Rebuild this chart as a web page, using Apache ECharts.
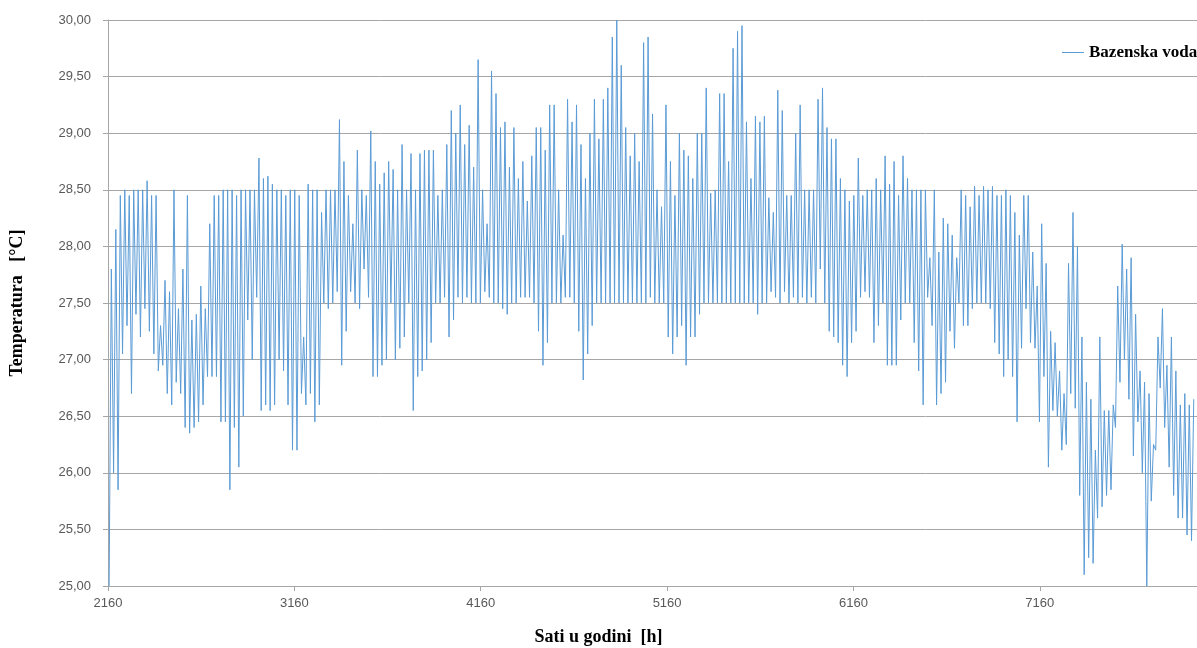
<!DOCTYPE html>
<html>
<head>
<meta charset="utf-8">
<script src="https://cdn.jsdelivr.net/npm/echarts@6/dist/echarts.min.js"></script>
<style>
  html, body { margin: 0; padding: 0; background: #fff; }
  #chart { width: 1197px; height: 648px; }
</style>
</head>
<body>
<div id="chart"></div>
<script>
// hour of year where the plotted period starts
var startHour = 2160
var seriesName = 'Bazenska voda'

// daily minimum of pool water temperature [°C], one value per day
var dailyLow = [
  25.0, 26.0, 25.85, 27.05, 27.3, 26.7, 27.4, 27.2, 27.45, 27.25,
  27.05, 26.9, 26.95, 26.7, 26.6, 26.8, 26.7, 26.4, 26.35, 26.4,
  26.45, 26.6, 26.85, 26.85, 26.85, 26.45, 26.45, 25.85, 26.4, 26.05,
  26.5, 27.35, 27.0, 27.55, 26.55, 26.6, 26.55, 26.6, 27.0, 26.9,
  26.6,
  26.2, 26.2, 26.7, 26.6, 26.7, 26.45, 26.6, 27.5, 27.45, 27.5,
  27.6, 26.95, 27.25, 27.6, 27.5, 27.45, 27.8, 27.55, 26.85, 26.85,
  26.95, 27.0,
  27.5, 27.0, 27.1, 27.2, 27.5, 26.55, 26.85, 26.9, 27.0, 27.15,
  27.5, 27.5, 27.55, 27.2, 27.35, 27.55, 27.5, 27.55, 27.5, 27.5,
  27.5, 27.6, 27.55, 27.5, 27.5, 27.45, 27.4, 27.5, 27.5, 27.55,
  27.55, 27.55, 27.5, 27.25, 26.95, 27.15, 27.5, 27.5, 27.5, 27.55,
  27.55, 27.5,
  27.25, 26.82, 27.05, 27.3, 27.5, 27.5, 27.5, 27.5, 27.5, 27.5,
  27.5, 27.5, 27.5, 27.5, 27.5, 27.5, 27.55, 27.5, 27.5, 27.5,
  27.2,
  27.05, 27.2, 27.3, 26.95, 27.2, 27.2, 27.4, 27.5, 27.5, 27.5,
  27.5, 27.5, 27.5, 27.5, 27.5, 27.5, 27.5, 27.5, 27.5, 27.4,
  27.5,
  27.5, 27.6, 27.55, 27.5, 27.6, 27.5, 27.55, 27.5, 27.55, 27.5,
  27.55, 27.5, 27.8, 27.5, 27.25, 27.2, 27.15, 26.95, 26.85, 27.15,
  27.25, 27.55,
  27.6, 27.55, 27.15, 27.3, 27.5, 26.95, 26.95, 26.95, 27.35, 27.5,
  27.5, 27.15, 26.9, 26.6, 27.55, 27.3, 26.6, 26.7, 26.8, 27.25,
  27.1,
  27.5, 27.3, 27.3, 27.45, 27.5, 27.5, 27.5, 27.45, 27.15, 27.05,
  26.85, 27.0, 26.85, 26.45, 27.1, 27.45, 27.15, 27.1, 26.45, 26.85,
  26.05, 26.55, 26.5, 26.2, 26.25, 26.7, 26.57, 25.8, 25.1, 25.25,
  25.2, 25.6, 25.7, 25.8, 25.85, 26.4, 26.8, 27.0, 26.65, 26.15,
  26.45, 26.0,
  25.0, 25.75, 26.2, 26.75, 26.4, 26.05, 25.8, 25.6, 25.6, 25.45,
  25.4
]

// daily maximum of pool water temperature [°C], one value per day
var dailyHigh = [
  27.8, 28.15, 28.45, 28.5, 28.45, 28.5, 28.5, 28.5, 28.58, 28.45,
  28.45, 27.3, 27.7, 27.6, 28.5, 27.45, 27.8, 28.45, 27.35, 27.4,
  27.65, 27.45, 28.2, 28.45, 28.45, 28.5, 28.5, 28.5, 28.45, 28.5,
  28.5, 28.5, 28.5, 28.78, 28.6, 28.62, 28.55, 28.5, 28.5, 28.45,
  28.5,
  28.5, 28.45, 27.2, 28.55, 28.5, 28.5, 28.3, 28.5, 28.5, 28.5,
  29.12, 28.75, 28.45, 28.2, 28.85, 28.5, 28.45, 29.02, 28.75, 28.55,
  28.65, 28.75,
  28.68, 28.5, 28.9, 28.5, 28.82, 28.5, 28.82, 28.85, 28.85, 28.85,
  28.45, 28.5, 28.9, 29.2, 29.0, 29.25, 28.9, 29.07, 28.7, 29.65,
  28.5, 28.2, 29.55, 29.35, 29.05, 29.1, 28.7, 29.05, 28.6, 28.75,
  28.4, 28.8, 29.05, 29.05, 28.85, 29.25, 29.25, 28.5, 28.1, 29.3,
  29.1, 29.25,
  28.9, 28.6, 29.0, 29.3, 28.95, 29.3, 29.4, 29.85, 30.0, 29.6,
  29.05, 28.8, 29.0, 28.75, 29.8, 29.85, 29.17, 28.5, 28.35, 29.25,
  28.75,
  28.45, 29.0, 28.85, 28.8, 28.6, 29.0, 29.0, 29.4, 28.47, 28.5,
  29.35, 29.35, 28.75, 29.75, 29.9, 29.95, 29.1, 28.6, 29.15, 29.1,
  29.15,
  28.43, 28.3, 29.38, 29.2, 28.45, 28.45, 29.0, 29.25, 28.5, 28.5,
  28.5, 29.3, 29.4, 29.05, 28.95, 28.95, 28.6, 28.5, 28.4, 28.45,
  28.78, 28.45,
  28.5, 28.5, 28.6, 28.5, 28.8, 28.55, 28.75, 28.45, 28.8, 28.6,
  28.5, 28.5, 28.5, 28.5, 27.9, 28.5, 27.95, 28.25, 28.2, 28.1,
  27.9,
  28.5, 28.45, 28.35, 28.53, 28.45, 28.53, 28.5, 28.53, 28.45, 28.45,
  28.5, 28.45, 28.3, 28.1, 28.45, 28.45, 27.95, 27.65, 28.2, 27.85,
  27.25, 27.15, 26.9, 26.7, 27.85, 28.3, 28.0, 27.2, 26.8, 26.65,
  26.2, 27.2, 26.55, 26.55, 26.6, 27.65, 28.02, 27.8, 27.9, 27.4,
  26.9, 26.8,
  26.7, 26.25, 27.2, 27.45, 26.95, 27.2, 26.9, 26.6, 26.7, 26.6,
  26.65
]

var yMin = 25
var yMax = 30
var yStep = 0.5
var xStep = 1000
var xMax = 8760

// hourly curve: morning low, afternoon high for each day
var points = []
for (var i = 0; i < dailyLow.length; i++) {
  points.push([startHour + 24 * i + 6, dailyLow[i]])
  points.push([startHour + 24 * i + 18, dailyHigh[i]])
}

var chart = echarts.init(document.getElementById('chart'))
chart.setOption({
  animation: false,
  backgroundColor: '#ffffff',
  title: {
    text: 'Sati u godini  [h]',
    left: 'center',
    top: 623,
    textStyle: {
      fontFamily: 'Liberation Serif',
      fontWeight: 'bold',
      fontSize: 18,
      color: '#000'
    }
  },
  legend: {
    left: 1062,
    top: 44,
    padding: 0,
    icon: 'rect',
    itemWidth: 22,
    itemHeight: 1,
    itemGap: 5,
    textStyle: {
      fontFamily: 'Liberation Serif',
      fontWeight: 'bold',
      fontSize: 17,
      color: '#000',
      padding: [0, 0, 0, 0]
    },
    data: [seriesName]
  },
  grid: {
    left: 108,
    top: 20,
    width: 1230,
    bottom: 62,
    outerBoundsMode: 'none',
    containLabel: false
  },
  xAxis: {
    type: 'value',
    min: startHour,
    max: xMax,
    interval: xStep,
    axisLine: { lineStyle: { color: '#a6a6a6' } },
    axisTick: { show: true, length: 5, lineStyle: { color: '#a6a6a6' } },
    axisLabel: {
      fontFamily: 'Liberation Sans',
      fontSize: 13,
      color: '#595959',
      margin: 11,
      formatter: function (v) { return String(v) }
    },
    splitLine: { show: false }
  },
  yAxis: {
    type: 'value',
    min: yMin,
    max: yMax,
    interval: yStep,
    name: 'Temperatura   [°C]',
    nameLocation: 'middle',
    nameGap: 82,
    nameTextStyle: {
      fontFamily: 'Liberation Serif',
      fontWeight: 'bold',
      fontSize: 18,
      color: '#000'
    },
    axisLine: { show: true, lineStyle: { color: '#a6a6a6' } },
    axisTick: { show: true, length: 5, lineStyle: { color: '#a6a6a6' } },
    axisLabel: {
      fontFamily: 'Liberation Sans',
      fontSize: 13,
      color: '#595959',
      margin: 17,
      formatter: function (v) { return v.toFixed(2).replace('.', ',') }
    },
    splitLine: { lineStyle: { color: '#a6a6a6', width: 1 } }
  },
  series: [
    {
      name: seriesName,
      type: 'line',
      data: points,
      symbol: 'none',
      lineStyle: { color: '#5b9bd5', width: 1 },
      itemStyle: { color: '#5b9bd5' }
    }
  ]
})
</script>
</body>
</html>
